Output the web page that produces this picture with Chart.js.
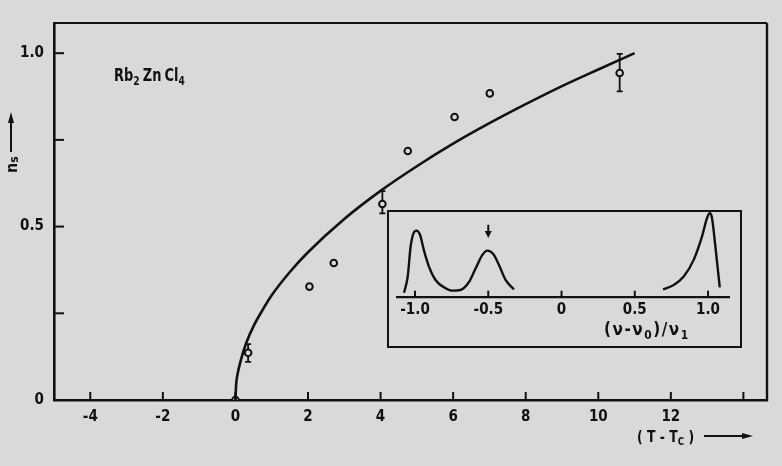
<!DOCTYPE html>
<html><head><meta charset="utf-8">
<script src="https://cdn.jsdelivr.net/npm/chart.js@4.4.1/dist/chart.umd.min.js"></script>
<style>
html,body{margin:0;padding:0;background:#d9d9d9;}
#wrap{position:relative;width:782px;height:466px;overflow:hidden;background:#d9d9d9;font-family:'DejaVu Sans Condensed','Liberation Sans Narrow',sans-serif;font-weight:bold;color:#111;}
#main{position:absolute;left:0;top:0;}
#insetBox{position:absolute;left:387px;top:210px;width:351px;height:134px;border:2px solid #111;background:#d9d9d9;}
#inset{position:absolute;left:0;top:0;}
.lbl{position:absolute;white-space:nowrap;line-height:1;}
.sub{font-size:70%;position:relative;top:0.3em;}
.shaft{position:absolute;background:#111;}
.tri-up{position:absolute;width:0;height:0;border-left:3.5px solid transparent;border-right:3.5px solid transparent;border-bottom:11px solid #111;}
.tri-right{position:absolute;width:0;height:0;border-top:3.5px solid transparent;border-bottom:3.5px solid transparent;border-left:11px solid #111;}
</style></head>
<body><div id="wrap">
<canvas id="main" width="782" height="466"></canvas>
<div id="insetBox"><canvas id="inset" width="351" height="134"></canvas></div>
<div class="lbl" style="left:114px;top:66px;font-size:18px;transform:scaleX(0.8);transform-origin:0 0;">Rb<span class="sub">2</span><span style="margin-left:4px">Zn</span><span style="margin-left:4px">Cl</span><span class="sub">4</span></div>
<div class="lbl" style="left:3.5px;top:173px;font-size:16px;transform:rotate(-90deg);transform-origin:0 0;">n<span class="sub" style="font-size:75%;top:0.1em;">s</span></div>
<div class="shaft" style="left:10.3px;top:120px;width:2px;height:32px;"></div>
<div class="tri-up" style="left:7.8px;top:112px;"></div>
<div class="lbl" style="left:637px;top:430px;font-size:15px;transform:scaleX(0.92);transform-origin:0 0;">( T - T<span class="sub">C</span> )</div>
<div class="shaft" style="left:704px;top:435px;width:40px;height:2px;"></div>
<div class="tri-right" style="left:742px;top:432.5px;"></div>
<div class="lbl" style="left:604px;top:321px;font-size:17px;letter-spacing:1.5px;">(ν-ν<span class="sub">0</span>)/ν<span class="sub">1</span></div>
</div>
<script>
// ---- main chart data ----
const curveT = [0, 0.02, 0.06, 0.15, 0.3, 0.5, 0.75, 1, 1.5, 2, 3, 4, 5, 6, 7, 8, 9, 10, 11];
const curveN = [0, 0.045, 0.075, 0.115, 0.165, 0.213, 0.26, 0.302, 0.369, 0.426, 0.522, 0.603, 0.674, 0.739, 0.798, 0.853, 0.905, 0.953, 1.0];
const pointT = [0, 0.35, 2.04, 2.71, 4.05, 4.75, 6.04, 7.01, 10.59];
const pointN = [0, 0.136, 0.327, 0.395, 0.565, 0.718, 0.816, 0.884, 0.943];
const errLow  = [null, 0.110, null, null, 0.538, null, null, null, 0.890];
const errHigh = [null, 0.161, null, null, 0.602, null, null, null, 0.998];
const xTicks = [-4, -2, 0, 2, 4, 6, 8, 10, 12, 14];
const xTickLabels = ['-4', '-2', '0', '2', '4', '6', '8', '10', '12', ''];
const yTicks = [0, 0.25, 0.5, 0.75, 1.0];
const yTickLabels = ['0', '', '0.5', '', '1.0'];
// ---- inset data ----
const specLeftX = [-1.075, -1.05, -1.03, -1.01, -0.99, -0.966, -0.94, -0.905, -0.86, -0.80, -0.745, -0.69, -0.63, -0.586, -0.54, -0.507, -0.466, -0.427, -0.382, -0.325];
const specLeftY = [0.048, 0.24, 0.6, 0.76, 0.79, 0.74, 0.56, 0.36, 0.2, 0.11, 0.072, 0.08, 0.18, 0.34, 0.5, 0.55, 0.51, 0.38, 0.2, 0.088];
const specRightX = [0.693, 0.766, 0.834, 0.902, 0.959, 0.993, 1.011, 1.027, 1.05, 1.08];
const specRightY = [0.088, 0.14, 0.24, 0.44, 0.72, 0.94, 1.0, 0.94, 0.6, 0.112];
const insetTicks = [-1, -0.5, 0, 0.5, 1];
const insetTickLabels = ['-1.0', '-0.5', '0', '0.5', '1.0'];
const arrowX = -0.5, arrowFrom = 0.86, arrowTo = 0.70;

const INK = '#111111', BG = '#d9d9d9';
const FAMILY = "'DejaVu Sans Condensed','Liberation Sans Narrow',sans-serif";
const FONT = {family: FAMILY, weight: 'bold', size: 15};
const pts = (xs, ys) => xs.map((x, i) => ({x: x, y: ys[i]}));

const framePlugin = {
  id: 'frame',
  afterDraw(chart) {
    const {ctx, chartArea: a, scales: {x, y}} = chart;
    ctx.save();
    ctx.strokeStyle = INK;
    ctx.lineWidth = 2;
    ctx.beginPath();
    ctx.moveTo(a.left, a.top); ctx.lineTo(a.right, a.top);
    ctx.stroke();
    ctx.lineWidth = 2.4;
    ctx.beginPath();
    ctx.moveTo(a.right, a.top); ctx.lineTo(a.right, a.bottom + 1);
    ctx.stroke();
    ctx.lineWidth = 2;
    xTicks.forEach(v => {
      const px = x.getPixelForValue(v);
      ctx.beginPath(); ctx.moveTo(px, a.bottom); ctx.lineTo(px, a.bottom - 8); ctx.stroke();
    });
    yTicks.forEach(v => {
      const py = y.getPixelForValue(v);
      ctx.beginPath(); ctx.moveTo(a.left, py); ctx.lineTo(a.left + 10, py); ctx.stroke();
    });
    ctx.restore();
  }
};
const errPlugin = {
  id: 'errbars',
  afterDatasetsDraw(chart) {
    const {ctx, scales: {x, y}} = chart;
    ctx.save();
    ctx.strokeStyle = INK;
    ctx.lineWidth = 1.8;
    pointT.forEach((t, i) => {
      if (errLow[i] == null) return;
      const px = x.getPixelForValue(t);
      const pc = y.getPixelForValue(pointN[i]);
      const lo = y.getPixelForValue(errLow[i]);
      const hi = y.getPixelForValue(errHigh[i]);
      ctx.beginPath();
      ctx.moveTo(px, hi); ctx.lineTo(px, pc - 3.5);
      ctx.moveTo(px, pc + 3.5); ctx.lineTo(px, lo);
      ctx.moveTo(px - 3, hi); ctx.lineTo(px + 3, hi);
      ctx.moveTo(px - 3, lo); ctx.lineTo(px + 3, lo);
      ctx.stroke();
    });
    ctx.restore();
  }
};

new Chart(document.getElementById('main'), {
  type: 'scatter',
  data: {datasets: [
    {data: pts(curveT, curveN), showLine: true, borderColor: INK, borderWidth: 2.6, pointRadius: 0, cubicInterpolationMode: 'monotone', fill: false},
    {data: pts(pointT, pointN), showLine: false, pointRadius: 3.3, pointBorderWidth: 2, pointBorderColor: INK, pointBackgroundColor: BG}
  ]},
  options: {
    responsive: false, animation: false, devicePixelRatio: 1,
    layout: {padding: {top: 23, right: 15, left: 0, bottom: 0}},
    plugins: {legend: {display: false}, tooltip: {enabled: false}},
    scales: {
      x: {type: 'linear', min: -5, max: 14.65,
        afterBuildTicks: s => { s.ticks = xTicks.map(v => ({value: v})); },
        ticks: {callback: (v, i) => xTickLabels[i], color: INK, font: FONT, padding: 8, maxRotation: 0, autoSkip: false},
        grid: {display: false, drawTicks: false},
        border: {display: true, color: INK, width: 2.6},
        afterFit: s => { s.height = 66; }},
      y: {type: 'linear', min: 0, max: 1.087,
        afterBuildTicks: s => { s.ticks = yTicks.map(v => ({value: v})); },
        ticks: {callback: (v, i) => yTickLabels[i], color: INK, font: FONT, padding: 10, autoSkip: false},
        grid: {display: false, drawTicks: false},
        border: {display: true, color: INK, width: 2.6},
        afterFit: s => { s.width = 54; }}
    }
  },
  plugins: [framePlugin, errPlugin]
});

const insetPlugin = {
  id: 'insetMarks',
  afterDraw(chart) {
    const {ctx, chartArea: a, scales: {x, y}} = chart;
    ctx.save();
    ctx.strokeStyle = INK; ctx.fillStyle = INK;
    ctx.lineWidth = 2;
    insetTicks.forEach(v => {
      const px = x.getPixelForValue(v);
      ctx.beginPath(); ctx.moveTo(px, a.bottom); ctx.lineTo(px, a.bottom - 6); ctx.stroke();
    });
    const ax = x.getPixelForValue(arrowX);
    const y0 = y.getPixelForValue(arrowFrom), y1 = y.getPixelForValue(arrowTo);
    ctx.beginPath(); ctx.moveTo(ax, y0); ctx.lineTo(ax, y1 - 6); ctx.stroke();
    ctx.beginPath(); ctx.moveTo(ax - 3.5, y1 - 7); ctx.lineTo(ax + 3.5, y1 - 7); ctx.lineTo(ax, y1); ctx.closePath(); ctx.fill();
    ctx.restore();
  }
};

new Chart(document.getElementById('inset'), {
  type: 'scatter',
  data: {datasets: [
    {data: pts(specLeftX, specLeftY), showLine: true, borderColor: INK, borderWidth: 2.4, pointRadius: 0, cubicInterpolationMode: 'monotone', clip: false},
    {data: pts(specRightX, specRightY), showLine: true, borderColor: INK, borderWidth: 2.4, pointRadius: 0, cubicInterpolationMode: 'monotone', clip: false}
  ]},
  options: {
    responsive: false, animation: false, devicePixelRatio: 1,
    layout: {padding: {top: 1, right: 11, left: 8, bottom: 0}},
    plugins: {legend: {display: false}, tooltip: {enabled: false}},
    scales: {
      x: {type: 'linear', min: -1.123, max: 1.143,
        afterBuildTicks: s => { s.ticks = insetTicks.map(v => ({value: v})); },
        ticks: {callback: (v, i) => insetTickLabels[i], color: INK, font: {family: FAMILY, weight: 'bold', size: 15}, padding: 4, maxRotation: 0, autoSkip: false},
        grid: {display: false, drawTicks: false},
        border: {display: true, color: INK, width: 2.2},
        afterFit: s => { s.height = 49.3; }},
      y: {type: 'linear', min: 0, max: 1, display: false}
    }
  },
  plugins: [insetPlugin]
});
</script>
</body></html>
